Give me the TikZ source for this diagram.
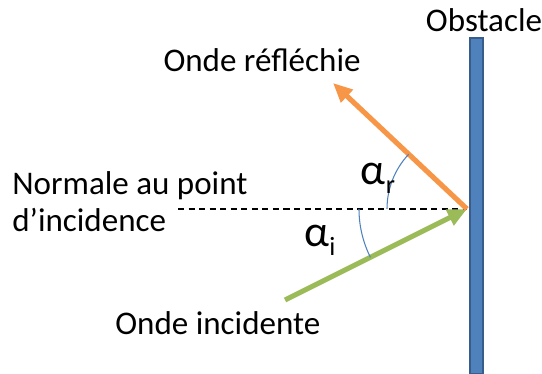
\documentclass[tikz,border=0pt]{standalone}
\usepackage{fontspec}
\setmainfont{Carlito}
\usetikzlibrary{positioning,arrows.meta}
\definecolor{barblue}{RGB}{79,129,189}
\definecolor{bardark}{RGB}{56,93,138}
\definecolor{incgreen}{RGB}{155,187,89}
\definecolor{refor}{RGB}{247,150,70}
\definecolor{arcblue}{RGB}{79,129,189}
\newcommand{\angsym}[1]{{\fontsize{25}{25}\selectfont α}\raisebox{-5pt}{\fontsize{15}{15}\selectfont #1}}
\tikzset{
  lbl/.style={font=\fontsize{18.8}{21}\selectfont, inner sep=0pt, align=left},
  ray/.style={line width=2.9pt, draw=#1, -{Triangle[length=11pt, width=9.5pt]}},
  ray/.default={incgreen},
  angarc/.style={draw=arcblue, line width=0.6pt},
  normal/.style={draw=black, line width=0.6pt, dash pattern=on 3.5pt off 2.5pt}
}
\begin{document}
\begin{tikzpicture}[x=0.02cm, y=0.02cm]
  \useasboundingbox (0,0) rectangle (542,374);
  % obstacle
  \fill[barblue, draw=bardark, line width=0.8pt] (470,0) rectangle (483,336);
  \coordinate (impact) at (467,165);
  \coordinate (src) at (285,74);
  \coordinate (out) at (333,291);
  \coordinate (nstart) at (178,165);
  \draw[normal] (nstart) -- (impact);
  \draw[ray=incgreen] (src) -- (impact);
  \draw[ray=refor] (impact) -- (out);
  % angles
  \draw[angarc] ([shift=(180:80)]impact) arc[start angle=180, end angle=136.8, radius=80];
  \draw[angarc] ([shift=(180:108)]impact) arc[start angle=180, end angle=206.6, radius=108];
  \node[lbl] (alr) at (378,196) {\angsym{r}};
  \node[lbl] (ali) at (320,134) {\angsym{i}};
  % labels
  \node[lbl] (obst) at (484,354) {Obstacle};
  \node[lbl] (refl) at (262,314) {Onde réfléchie};
  \node[lbl, anchor=west] (norm) at (12,172.5) {Normale au point\\d'incidence};
  \node[lbl, anchor=west] (inc) at (115,51) {Onde incidente};
\end{tikzpicture}
\end{document}
